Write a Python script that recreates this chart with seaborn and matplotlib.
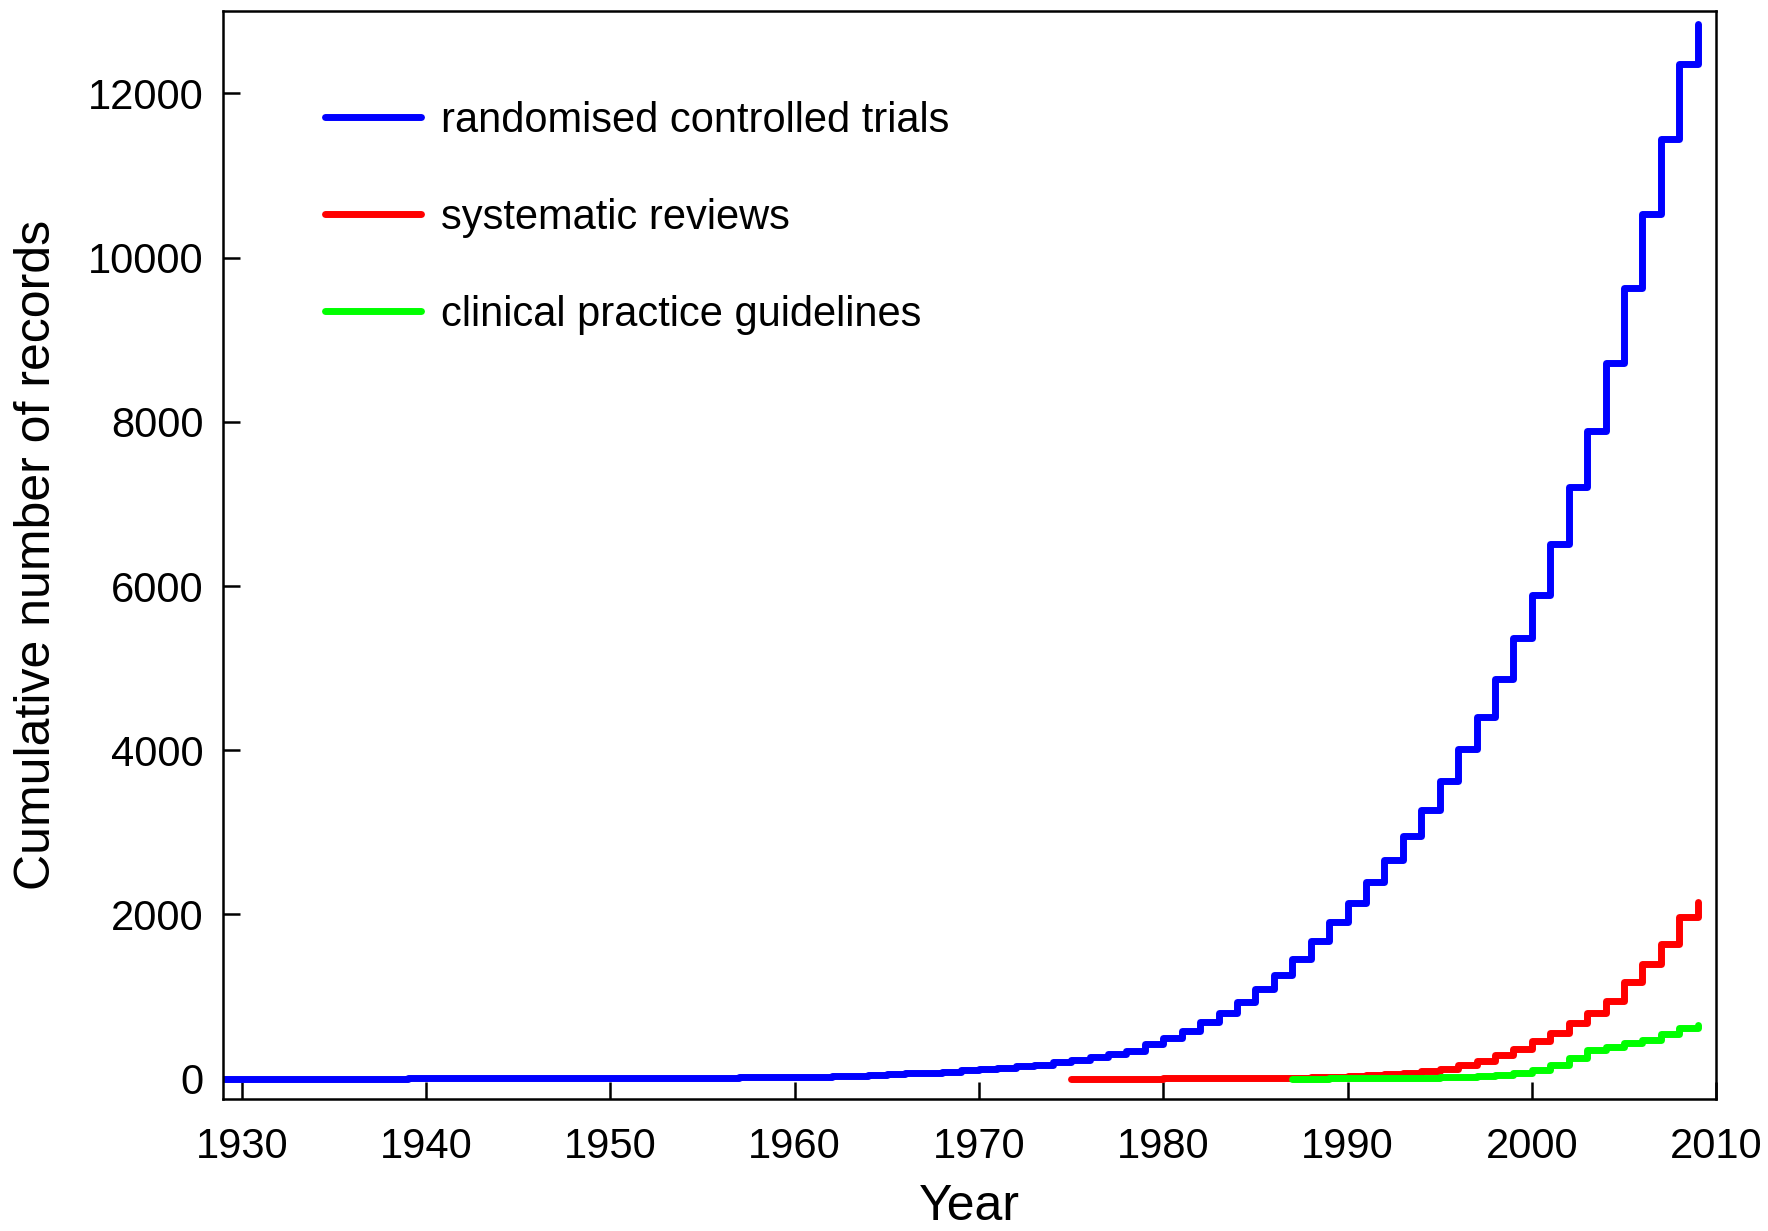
import pandas as pd
import matplotlib
matplotlib.use("Agg")
import matplotlib.pyplot as plt
import seaborn as sns

# valores (acumulado por ano)
anos_rct = list(range(1929, 2010))
rct = [0, 0, 0, 0, 1, 1, 1, 1, 1, 1,
       2, 2, 2, 2, 2, 3, 3, 3, 4, 4,
       5, 5, 6, 7, 8, 9, 10, 12, 14, 16,
       19, 22, 26, 31, 38, 46, 55, 64, 74, 86,
       100, 115, 130, 150, 172, 200, 232, 264, 298, 340,
       420, 500, 586, 688, 805, 931, 1093, 1267, 1458, 1674,
       1905, 2141, 2392, 2668, 2952, 3277, 3622, 4010, 4410, 4870,
       5367, 5895, 6510, 7210, 7885, 8716, 9636, 10531, 11440, 12362,
       12850]

anos_sr = list(range(1975, 2010))
sr = [0, 0, 0, 1, 1, 2, 2, 3, 4, 5,
      7, 9, 12, 16, 21, 35, 45, 58, 72, 92,
      120, 165, 215, 285, 365, 455, 558, 680, 801, 951,
      1174, 1398, 1641, 1966, 2150]

anos_cpg = list(range(1987, 2010))
cpg = [0, 1, 2, 3, 4, 6, 8, 11, 15, 21,
       30, 45, 65, 111, 172, 253, 354, 390, 430, 470,
       545, 615, 650]

nomes = ["randomised controlled trials", "systematic reviews", "clinical practice guidelines"]
cores = ["#0000ff", "#ff0000", "#00ff00"]

df = pd.concat([
    pd.DataFrame({"Year": anos_rct, "n": rct, "tipo": nomes[0]}),
    pd.DataFrame({"Year": anos_sr, "n": sr, "tipo": nomes[1]}),
    pd.DataFrame({"Year": anos_cpg, "n": cpg, "tipo": nomes[2]}),
])

sns.set_style("ticks")
plt.rcParams["font.family"] = ["Liberation Sans", "DejaVu Sans"]
plt.rcParams["text.color"] = "black"
plt.rcParams["axes.labelcolor"] = "black"
plt.rcParams["xtick.color"] = "black"
plt.rcParams["ytick.color"] = "black"

fig = plt.figure(figsize=(17.68, 12.31), dpi=100)
ax = fig.add_axes([0.1263, 0.1071, 0.8444, 0.8837])

sns.lineplot(data=df, x="Year", y="n", hue="tipo", hue_order=nomes,
             palette=dict(zip(nomes, cores)), drawstyle="steps-post",
             linewidth=5, solid_capstyle="round", estimator=None, ax=ax)

ax.set_xlim(1929, 2010)
ax.set_ylim(-250, 13000)
ax.set_xticks(range(1930, 2011, 10))
ax.set_yticks(range(0, 12001, 2000))
ax.tick_params(direction="in", length=12, width=1.8, labelsize=30, color="black", labelcolor="black")
ax.tick_params(axis="x", pad=20)
ax.tick_params(axis="y", pad=14)
for s in ax.spines.values():
    s.set_linewidth(1.8)
    s.set_color("black")

ax.set_xlabel("Year", fontsize=36, labelpad=12)
ax.set_ylabel("Cumulative number of records", fontsize=36, labelpad=20)

h, l = ax.get_legend_handles_labels()
ax.legend(h, l, loc="upper left", bbox_to_anchor=(0.068, 0.918), frameon=False,
          fontsize=30, handlelength=2.3, handletextpad=0.5, labelspacing=1.37,
          borderpad=0, borderaxespad=0)

fig.savefig("out.png", dpi=100)
